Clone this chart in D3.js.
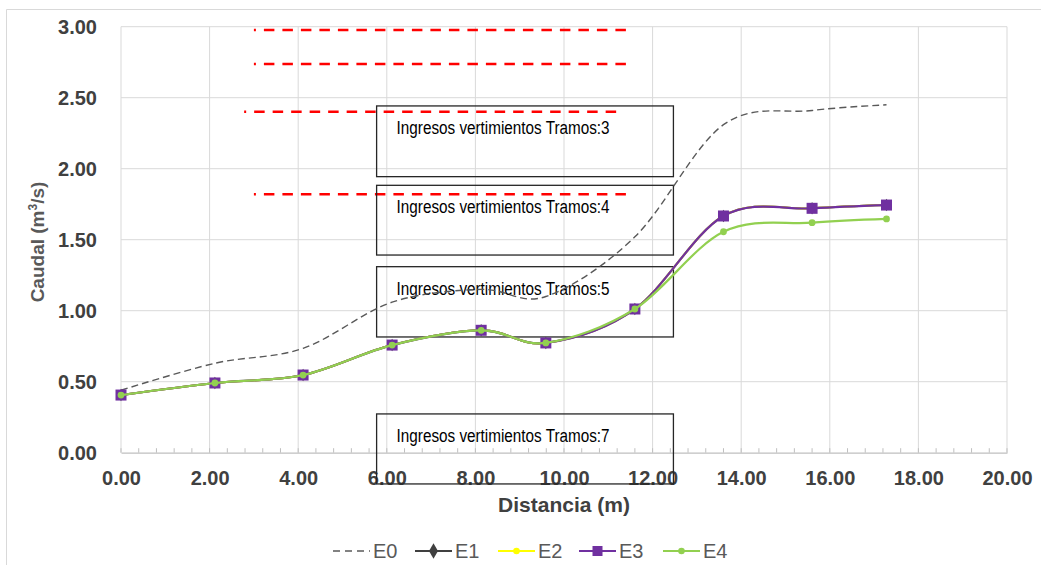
<!DOCTYPE html>
<html>
<head>
<meta charset="utf-8">
<script src="https://cdn.jsdelivr.net/npm/d3@7"></script>
<style>
  html, body { margin: 0; padding: 0; background: #fff; }
  svg { display: block; }
</style>
</head>
<body>
<svg id="chart" width="1041" height="565"></svg>
<script>
// ---------- data ----------
const distances = [0, 2.12, 4.11, 6.12, 8.13, 9.59, 11.6, 13.6, 15.6, 17.28];
const E0 = [0.44, 0.63, 0.735, 1.06, 1.15, 1.10, 1.52, 2.31, 2.41, 2.45];
const E1 = [0.406, 0.491, 0.547, 0.758, 0.862, 0.773, 1.012, 1.667, 1.721, 1.744];
const E2 = [0.406, 0.491, 0.547, 0.758, 0.862, 0.773, 1.012, 1.667, 1.721, 1.744];
const E3 = [0.406, 0.491, 0.547, 0.758, 0.862, 0.773, 1.012, 1.667, 1.721, 1.744];
const E4 = [0.406, 0.491, 0.547, 0.758, 0.862, 0.773, 1.012, 1.556, 1.620, 1.646];
const seriesNames = ["E0", "E1", "E2", "E3", "E4"];

const xTicks = [0, 2, 4, 6, 8, 10, 12, 14, 16, 18, 20];
const yTicks = [0, 0.5, 1, 1.5, 2, 2.5, 3];

// red dashed reference levels (caudal) and their distance extent
const refLevels = [2.977, 2.737, 2.401, 1.82];
const refStarts = [3.0, 3.0, 2.78, 3.0];
const refEnds = [11.45, 11.45, 11.25, 11.45];

// annotation boxes
const boxLabels = ["Ingresos vertimientos Tramos:3", "Ingresos vertimientos Tramos:4",
                   "Ingresos vertimientos Tramos:5", "Ingresos vertimientos Tramos:7"];
const boxTops = [2.442, 1.883, 1.31, 0.273];
const boxBottoms = [1.944, 1.392, 0.815, -0.22];
const boxLeft = 5.77, boxRight = 12.47;

// ---------- layout ----------
const svg = d3.select("#chart");
const L = 121, R = 1007, T = 26.7, B = 452.7;
const x = d3.scaleLinear().domain([0, 20]).range([L, R]);
const y = d3.scaleLinear().domain([0, 3]).range([B, T]);

// outer chart border (left and top visible)
svg.append("path").attr("d", `M6.5,565 V9.5 H1041`).attr("fill", "none")
   .attr("stroke", "#d9d9d9").attr("stroke-width", 1);

// gridlines
const grid = svg.append("g");
grid.selectAll("line.v").data(xTicks.slice(1)).join("line")
  .attr("x1", d => x(d)).attr("x2", d => x(d)).attr("y1", T).attr("y2", B)
  .attr("stroke", "#d9d9d9").attr("stroke-width", 1);
grid.selectAll("line.h").data(yTicks.slice(1)).join("line")
  .attr("x1", L).attr("x2", R).attr("y1", d => y(d)).attr("y2", d => y(d))
  .attr("stroke", "#d9d9d9").attr("stroke-width", 1);

// left axis line
svg.append("line").attr("x1", L).attr("x2", L).attr("y1", T).attr("y2", B)
   .attr("stroke", "#d9d9d9").attr("stroke-width", 1);

// minor ticks (inside, upward)
const minor = d3.range(0, 20.0001, 0.4);
svg.append("g").selectAll("line").data(minor).join("line")
  .attr("x1", d => x(d)).attr("x2", d => x(d)).attr("y1", B).attr("y2", B - 4.5)
  .attr("stroke", "#bfbfbf").attr("stroke-width", 1);

// bottom axis
const xAxis = d3.axisBottom(x).tickValues(xTicks).tickFormat(d3.format(".2f"))
  .tickSize(0).tickPadding(18);
const gx = svg.append("g").attr("transform", `translate(0,${B})`).call(xAxis);
gx.select(".domain").attr("stroke", "#bfbfbf").attr("stroke-width", 1.2);
gx.selectAll("text").attr("font-family", "Liberation Sans, Arial, sans-serif")
  .attr("font-size", 20).attr("font-weight", "bold").attr("fill", "#404040");

// left axis
const yAxis = d3.axisLeft(y).tickValues(yTicks).tickFormat(d3.format(".2f"))
  .tickSize(0).tickPadding(24);
const gy = svg.append("g").attr("transform", `translate(${L},0)`).call(yAxis);
gy.select(".domain").remove();
gy.selectAll("text").attr("font-family", "Liberation Sans, Arial, sans-serif")
  .attr("font-size", 20).attr("font-weight", "bold").attr("fill", "#404040");

// axis titles
svg.append("text").attr("x", 564).attr("y", 512).attr("text-anchor", "middle")
  .attr("font-family", "Liberation Sans, Arial, sans-serif").attr("font-size", 21)
  .attr("font-weight", "bold").attr("fill", "#404040").text("Distancia (m)");

const yt = svg.append("text").attr("transform", "translate(44,242) rotate(-90)")
  .attr("text-anchor", "middle")
  .attr("font-family", "Liberation Sans, Arial, sans-serif").attr("font-size", 19)
  .attr("font-weight", "bold").attr("fill", "#595959");
yt.append("tspan").text("Caudal (m");
yt.append("tspan").attr("font-size", 12).attr("dy", -7).text("3");
yt.append("tspan").attr("dy", 7).text("/s)");

// red dashed reference lines
svg.append("g").selectAll("line").data(refLevels).join("line")
  .attr("x1", (d, i) => x(refStarts[i])).attr("x2", (d, i) => x(refEnds[i]))
  .attr("y1", d => y(d)).attr("y2", d => y(d))
  .attr("stroke", "#ff0000").attr("stroke-width", 2.6)
  .attr("stroke-dasharray", "10.5,8").attr("stroke-dashoffset", 8.5);

// annotation boxes
const bx = svg.append("g");
bx.selectAll("rect").data(boxLabels).join("rect")
  .attr("x", x(boxLeft)).attr("width", x(boxRight) - x(boxLeft))
  .attr("y", (d, i) => y(boxTops[i])).attr("height", (d, i) => y(boxBottoms[i]) - y(boxTops[i]))
  .attr("fill", "none").attr("stroke", "#262626").attr("stroke-width", 1.3);
bx.selectAll("text").data(boxLabels).join("text")
  .attr("x", x(boxLeft) + 20).attr("y", (d, i) => y(boxTops[i]) + 28)
  .attr("font-family", "Liberation Sans Narrow, Arial Narrow, Liberation Sans, sans-serif")
  .attr("font-size", 18).attr("fill", "#000")
  .attr("textLength", 213).attr("lengthAdjust", "spacingAndGlyphs")
  .text(d => d);

// ---------- series ----------
const line = d3.line().x(d => x(d[0])).y(d => y(d[1])).curve(d3.curveCardinal.tension(0));
const pts = arr => distances.map((d, i) => [d, arr[i]]);

// E0 dashed
svg.append("path").attr("d", line(pts(E0))).attr("fill", "none")
  .attr("stroke", "#595959").attr("stroke-width", 1.4).attr("stroke-dasharray", "7,4");

// E1 black with diamonds
svg.append("path").attr("d", line(pts(E1))).attr("fill", "none")
  .attr("stroke", "#404040").attr("stroke-width", 2);
svg.append("g").selectAll("path").data(pts(E1)).join("path")
  .attr("d", d3.symbol(d3.symbolDiamond, 45))
  .attr("transform", d => `translate(${x(d[0])},${y(d[1])})`).attr("fill", "#404040");

// E2 yellow
svg.append("path").attr("d", line(pts(E2))).attr("fill", "none")
  .attr("stroke", "#ffff00").attr("stroke-width", 2);
svg.append("g").selectAll("circle").data(pts(E2)).join("circle")
  .attr("cx", d => x(d[0])).attr("cy", d => y(d[1])).attr("r", 3.3).attr("fill", "#ffff00");

// E3 purple squares
svg.append("path").attr("d", line(pts(E3))).attr("fill", "none")
  .attr("stroke", "#7030a0").attr("stroke-width", 2.2);
svg.append("g").selectAll("rect").data(pts(E3)).join("rect")
  .attr("x", d => x(d[0]) - 5.5).attr("y", d => y(d[1]) - 5.5)
  .attr("width", 11).attr("height", 11).attr("fill", "#7030a0");

// E4 green dots
svg.append("path").attr("d", line(pts(E4))).attr("fill", "none")
  .attr("stroke", "#92d050").attr("stroke-width", 2.2);
svg.append("g").selectAll("circle").data(pts(E4)).join("circle")
  .attr("cx", d => x(d[0])).attr("cy", d => y(d[1])).attr("r", 3.4).attr("fill", "#92d050");

// ---------- legend ----------
const legX = [333, 415, 498, 579, 663];
const legColors = ["#595959", "#404040", "#ffff00", "#7030a0", "#92d050"];
const legY = 551;
const lg = svg.append("g");
seriesNames.forEach((name, i) => {
  const x0 = legX[i], x1 = x0 + 37, cx = (x0 + x1) / 2;
  lg.append("line").attr("x1", x0).attr("x2", x1).attr("y1", legY).attr("y2", legY)
    .attr("stroke", legColors[i]).attr("stroke-width", i === 0 ? 1.4 : 2)
    .attr("stroke-dasharray", i === 0 ? "7,5" : null);
  if (i === 1) lg.append("path").attr("d", d3.symbol(d3.symbolDiamond, 70))
    .attr("transform", `translate(${cx},${legY})`).attr("fill", legColors[i]);
  if (i === 2 || i === 4) lg.append("circle").attr("cx", cx).attr("cy", legY).attr("r", 3.3).attr("fill", legColors[i]);
  if (i === 3) lg.append("rect").attr("x", cx - 5).attr("y", legY - 5).attr("width", 10).attr("height", 10).attr("fill", legColors[i]);
  lg.append("text").attr("x", x1 + 3).attr("y", 558)
    .attr("font-family", "Liberation Sans, Arial, sans-serif").attr("font-size", 20)
    .attr("fill", "#595959").text(name);
});
</script>
</body>
</html>
